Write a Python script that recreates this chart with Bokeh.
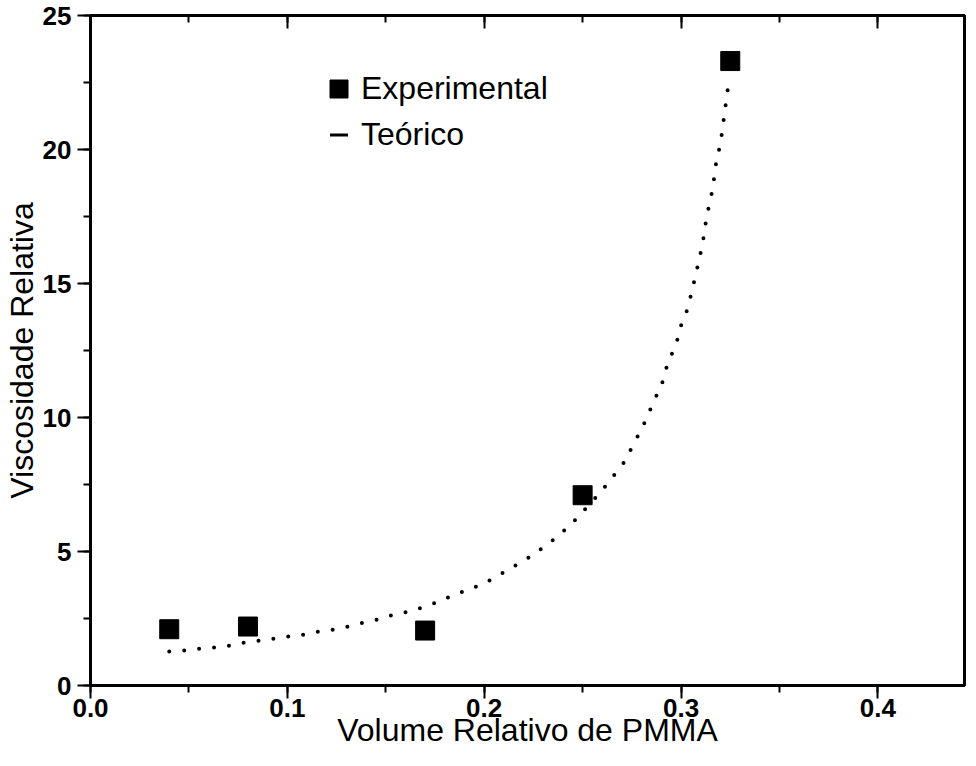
from bokeh.plotting import figure
from bokeh.models import (SingleIntervalTicker, LinearAxis, CustomJSTickFormatter,
                          PrintfTickFormatter, Legend, LegendItem, Range1d)
from bokeh.embed import file_html
from bokeh.resources import INLINE

# Experimental data
exp_x = [0.04, 0.08, 0.17, 0.25, 0.325]
exp_y = [2.1, 2.2, 2.05, 7.1, 23.3]

# Theoretical curve
theo_x = [0.040, 0.048, 0.056, 0.063, 0.071, 0.078, 0.086, 0.093, 0.101, 0.109,
          0.116, 0.124, 0.131, 0.139, 0.146, 0.154, 0.162, 0.170, 0.177, 0.184,
          0.192, 0.200, 0.207, 0.214, 0.222, 0.230, 0.238, 0.245, 0.252, 0.259,
          0.265, 0.271, 0.275, 0.279, 0.283, 0.286, 0.290, 0.292, 0.295, 0.298,
          0.300, 0.303, 0.305, 0.308, 0.311, 0.313, 0.316, 0.318, 0.320, 0.322,
          0.324]
theo_y = [1.27, 1.31, 1.38, 1.42, 1.49, 1.60, 1.68, 1.75, 1.83, 1.90,
          2.01, 2.09, 2.20, 2.35, 2.46, 2.65, 2.76, 2.95, 3.13, 3.36,
          3.58, 3.81, 4.10, 4.40, 4.74, 5.15, 5.60, 6.08, 6.64, 7.20,
          7.76, 8.32, 8.88, 9.44, 10.04, 10.60, 11.16, 11.75, 12.31, 12.87,
          13.43, 13.99, 14.55, 15.5, 16.5, 17.5, 18.5, 19.6, 20.2, 21.3,
          22.4]

x_label = "Volume Relativo de PMMA"
y_label = "Viscosidade Relativa"
legend_labels = ["Experimental", "Teórico"]

FONT = "Liberation Sans"

p = figure(width=966, height=750, output_backend="svg", toolbar_location=None,
           x_range=Range1d(0, 0.444), y_range=Range1d(0, 25),
           min_border_left=87, min_border_right=2, min_border_top=15,
           min_border_bottom=64, x_axis_type=None, y_axis_type=None)
p.xgrid.visible = False
p.ygrid.visible = False
p.outline_line_color = "black"
p.outline_line_width = 3
p.background_fill_color = "white"
p.border_fill_color = "white"

xt = SingleIntervalTicker(interval=0.1, num_minor_ticks=2)
yt = SingleIntervalTicker(interval=5, num_minor_ticks=2)

def style(ax):
    ax.axis_line_width = 3
    ax.axis_line_color = "black"
    ax.major_tick_line_width = 2
    ax.minor_tick_line_width = 2
    ax.major_tick_line_color = "black"
    ax.minor_tick_line_color = "black"
    ax.major_label_text_font = FONT
    ax.major_label_text_font_style = "bold"
    ax.major_label_text_font_size = "26px"
    ax.major_label_text_color = "black"
    ax.axis_label_text_font = FONT
    ax.axis_label_text_font_style = "normal"
    ax.axis_label_text_font_size = "32px"
    ax.axis_label_text_color = "black"

xa = LinearAxis(ticker=xt, formatter=PrintfTickFormatter(format="%.1f"),
                axis_label=x_label)
style(xa)
xa.major_tick_out = 13
xa.major_tick_in = 0
xa.minor_tick_out = 7
xa.minor_tick_in = 0
xa.major_label_standoff = 0
xa.axis_label_standoff = -8
p.add_layout(xa, "below")

ya = LinearAxis(ticker=yt, formatter=PrintfTickFormatter(format="%d"),
                axis_label=y_label)
style(ya)
ya.major_tick_out = 13
ya.major_tick_in = 0
ya.minor_tick_out = 7
ya.minor_tick_in = 0
ya.major_label_standoff = 6
ya.axis_label_standoff = 0
p.add_layout(ya, "left")

ta = LinearAxis(ticker=xt, formatter=CustomJSTickFormatter(code="return ''"))
style(ta)
ta.major_tick_out = 0
ta.major_tick_in = 13
ta.minor_tick_out = 0
ta.minor_tick_in = 7
ta.major_label_standoff = 0
p.add_layout(ta, "above")

theo = p.line(theo_x, theo_y, line_color="black", line_width=4,
              line_dash="0 15", line_cap="round")
exp_r = p.scatter(exp_x, exp_y, marker="square", size=19, fill_color="black",
                  line_color="black")
# legend-only symbol for the theoretical curve (a short solid dash)
dash_r = p.scatter(theo_x, theo_y, marker="dash", line_color="black",
                   line_width=3, visible=False)

legend = Legend(items=[LegendItem(label=legend_labels[0], renderers=[exp_r]),
                       LegendItem(label=legend_labels[1], renderers=[dash_r])],
                location=(226, 528), glyph_width=45, glyph_height=45,
                label_standoff=0, spacing=1, padding=0, margin=0,
                border_line_alpha=0, background_fill_alpha=0,
                inactive_fill_alpha=0,
                label_text_font=FONT, label_text_font_size="32px",
                label_text_color="black")
p.add_layout(legend)

open("out.html", "w").write(file_html(p, INLINE))
